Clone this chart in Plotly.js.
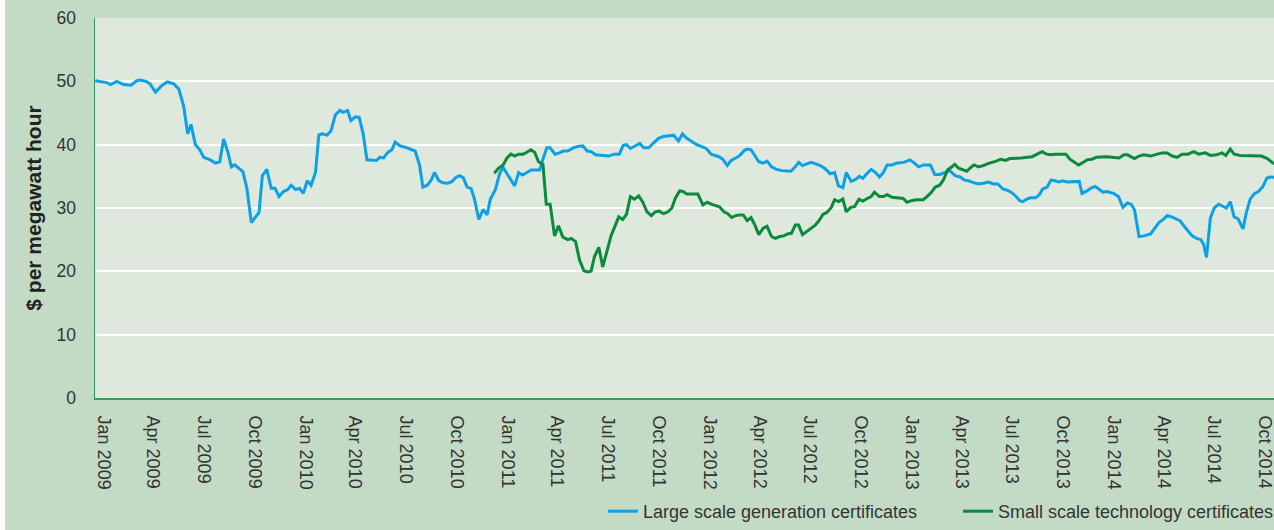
<!DOCTYPE html>
<html>
<head>
<meta charset="utf-8">
<script src="https://cdn.plot.ly/plotly-3.0.1.min.js"></script>
<style>
  html, body { margin: 0; padding: 0; background: #ffffff; width: 1274px; height: 530px; overflow: hidden; }
  #chart { position: absolute; left: 5px; top: 0; width: 1400px; height: 530px; }
</style>
</head>
<body>
<div id="chart"></div>
<script>
// Large scale generation certificates ($/MWh)
const lgcDates = [
"2008-12-17","2009-01-07","2009-01-14","2009-01-25","2009-02-06","2009-02-20","2009-03-02","2009-03-08","2009-03-19","2009-03-26",
"2009-04-05","2009-04-17","2009-04-26","2009-05-08","2009-05-17","2009-05-26","2009-06-02","2009-06-08","2009-06-16","2009-06-24",
"2009-07-01","2009-07-13","2009-07-22","2009-07-30","2009-08-06","2009-08-14","2009-08-20","2009-08-26","2009-09-02","2009-09-10",
"2009-09-17","2009-09-25","2009-10-02","2009-10-09","2009-10-15","2009-10-23","2009-10-31","2009-11-07","2009-11-14","2009-11-22",
"2009-11-30","2009-12-06","2009-12-14","2009-12-21","2009-12-28","2010-01-04","2010-01-11","2010-01-19","2010-01-25","2010-01-31",
"2010-02-09","2010-02-16","2010-02-24","2010-03-04","2010-03-10","2010-03-18","2010-03-24","2010-04-01","2010-04-08","2010-04-15",
"2010-04-22","2010-05-01","2010-05-09","2010-05-15","2010-05-22","2010-05-29","2010-06-06","2010-06-12","2010-06-21","2010-06-30",
"2010-07-09","2010-07-18","2010-07-26","2010-08-01","2010-08-09","2010-08-16","2010-08-22","2010-08-30","2010-09-06","2010-09-15",
"2010-09-23","2010-09-29","2010-10-06","2010-10-13","2010-10-20","2010-10-27","2010-11-02","2010-11-10","2010-11-18","2010-11-25",
"2010-12-01","2010-12-10","2010-12-18","2010-12-24","2011-01-03","2011-01-14","2011-01-21","2011-01-28","2011-02-05","2011-02-13",
"2011-02-20","2011-02-28","2011-03-06","2011-03-13","2011-03-19","2011-03-28","2011-04-05","2011-04-12","2011-04-20","2011-04-28",
"2011-05-07","2011-05-17","2011-05-25","2011-06-01","2011-06-09","2011-06-21","2011-07-03","2011-07-13","2011-07-22","2011-07-29",
"2011-08-04","2011-08-11","2011-08-20","2011-08-28","2011-09-04","2011-09-13","2011-09-22","2011-10-01","2011-10-10","2011-10-19",
"2011-10-28","2011-11-06","2011-11-13","2011-11-21","2011-11-30","2011-12-09","2011-12-26","2012-01-04","2012-01-18","2012-01-25",
"2012-02-02","2012-02-09","2012-02-20","2012-02-26","2012-03-04","2012-03-10","2012-03-16","2012-03-22","2012-03-30","2012-04-07",
"2012-04-14","2012-04-22","2012-05-01","2012-05-11","2012-05-20","2012-05-27","2012-06-04","2012-06-10","2012-06-17","2012-06-25",
"2012-07-02","2012-07-10","2012-07-19","2012-07-28","2012-08-06","2012-08-14","2012-08-21","2012-08-29","2012-09-04","2012-09-13",
"2012-09-21","2012-09-28","2012-10-04","2012-10-12","2012-10-19","2012-10-27","2012-11-03","2012-11-10","2012-11-17","2012-11-26",
"2012-12-05","2012-12-17","2012-12-28","2013-01-05","2013-01-13","2013-01-22","2013-02-03","2013-02-11","2013-02-20","2013-03-01",
"2013-03-10","2013-03-20","2013-03-29","2013-04-06","2013-04-13","2013-04-22","2013-05-01","2013-05-10","2013-05-19","2013-05-28",
"2013-06-05","2013-06-14","2013-06-22","2013-06-29","2013-07-07","2013-07-14","2013-07-20","2013-07-27","2013-08-03","2013-08-12",
"2013-08-19","2013-08-25","2013-09-02","2013-09-09","2013-09-17","2013-09-23","2013-09-30","2013-10-08","2013-10-17","2013-10-24",
"2013-10-30","2013-11-04","2013-11-13","2013-11-21","2013-11-28","2013-12-12","2013-12-19","2013-12-31","2014-01-09","2014-01-17",
"2014-01-25","2014-02-01","2014-02-07","2014-02-15","2014-02-24","2014-03-08","2014-03-15","2014-03-23","2014-03-31","2014-04-07",
"2014-04-15","2014-04-24","2014-04-30","2014-05-07","2014-05-14","2014-05-22","2014-05-30","2014-06-07","2014-06-12","2014-06-17",
"2014-06-24","2014-07-01","2014-07-09","2014-07-16","2014-07-23","2014-07-30","2014-08-06","2014-08-13","2014-08-22","2014-08-28",
"2014-09-04","2014-09-12","2014-09-19","2014-09-27","2014-10-04","2014-10-10","2014-10-17","2014-10-24"
];
const lgcValues = [
50.1,49.8,49.5,50.0,49.5,49.4,50.1,50.2,50.0,49.6,
48.3,49.4,49.9,49.6,48.8,46.0,41.7,43.2,40.0,39.2,
38.0,37.6,37.1,37.3,40.9,38.7,36.5,36.8,36.3,35.7,
33.1,27.7,28.5,29.3,35.1,36.1,33.1,33.1,31.8,32.6,
32.9,33.6,32.9,33.1,32.3,34.3,33.6,35.6,41.5,41.7,
41.5,42.2,44.7,45.4,45.1,45.4,43.8,44.4,44.3,41.8,
37.6,37.5,37.5,38.0,37.9,38.7,39.2,40.4,39.8,39.6,
39.3,39.0,36.8,33.3,33.6,34.4,35.6,34.3,34.0,33.9,
34.2,34.8,35.1,34.8,33.3,33.1,31.5,28.2,29.8,28.9,
31.4,32.9,35.5,36.4,35.0,33.5,35.6,35.2,35.6,36.0,
36.0,36.0,37.7,39.5,39.5,38.5,38.7,39.0,39.0,39.4,
39.7,39.8,39.0,38.9,38.4,38.3,38.2,38.5,38.5,39.9,
40.0,39.4,39.8,40.2,39.5,39.5,40.3,41.0,41.3,41.4,
41.5,40.6,41.7,41.0,40.5,40.0,39.4,38.5,38.1,37.7,
36.7,37.5,38.0,38.4,39.1,39.3,39.2,38.4,37.3,37.1,
37.4,36.5,36.1,35.9,35.8,35.8,36.5,37.2,36.7,37.0,
37.2,37.0,36.7,36.2,35.4,35.6,33.5,33.2,35.6,34.2,
34.5,35.0,34.7,35.5,36.1,35.6,34.9,35.6,36.8,36.8,
37.1,37.2,37.6,37.1,36.5,36.8,36.8,35.3,35.3,35.6,
35.9,35.1,34.9,34.4,34.3,34.0,33.8,33.9,34.1,33.8,
33.8,33.0,32.8,32.5,31.9,31.2,31.0,31.4,31.6,31.6,
32.1,33.0,33.3,34.4,34.3,34.1,34.3,34.1,34.1,34.1,
34.2,32.3,32.7,33.2,33.4,32.5,32.6,32.3,31.8,30.1,
30.8,30.6,29.7,25.5,25.6,25.9,26.8,27.7,28.2,28.8,
28.6,28.3,28.0,27.2,26.5,25.6,25.2,25.0,24.2,22.2,
28.4,30.0,30.6,30.3,30.0,31.0,28.6,28.3,26.7,29.3,
31.4,32.3,32.6,33.4,34.7,34.9,34.8,34.8
];

// Small scale technology certificates ($/MWh)
const stcDates = [
"2010-12-08","2010-12-16","2010-12-24","2010-12-31","2011-01-07","2011-01-14","2011-01-21","2011-01-29","2011-02-05","2011-02-12",
"2011-02-19","2011-02-26","2011-03-06","2011-03-12","2011-03-19","2011-03-27","2011-04-03","2011-04-11","2011-04-20","2011-04-26",
"2011-05-04","2011-05-11","2011-05-19","2011-05-26","2011-06-01","2011-06-07","2011-06-15","2011-06-22","2011-06-30","2011-07-07",
"2011-07-14","2011-07-21","2011-07-28","2011-08-04","2011-08-11","2011-08-18","2011-08-26","2011-09-02","2011-09-10","2011-09-18",
"2011-09-25","2011-10-02","2011-10-10","2011-10-18","2011-10-25","2011-10-31","2011-11-08","2011-11-14","2011-11-21","2011-11-30",
"2011-12-11","2011-12-20","2011-12-28","2012-01-04","2012-01-12","2012-01-19","2012-01-27","2012-02-03","2012-02-10","2012-02-17",
"2012-02-24","2012-03-02","2012-03-09","2012-03-16","2012-03-23","2012-03-30","2012-04-07","2012-04-14","2012-04-22","2012-04-29",
"2012-05-07","2012-05-14","2012-05-21","2012-05-28","2012-06-04","2012-06-10","2012-06-17","2012-06-25","2012-07-02","2012-07-10",
"2012-07-16","2012-07-24","2012-07-31","2012-08-08","2012-08-14","2012-08-21","2012-08-29","2012-09-04","2012-09-12","2012-09-19",
"2012-09-27","2012-10-04","2012-10-12","2012-10-19","2012-10-25","2012-11-03","2012-11-10","2012-11-17","2012-11-26","2012-12-05",
"2012-12-16","2012-12-23","2013-01-01","2013-01-10","2013-01-21","2013-01-28","2013-02-04","2013-02-12","2013-02-20","2013-02-27",
"2013-03-06","2013-03-14","2013-03-19","2013-03-26","2013-04-03","2013-04-10","2013-04-17","2013-04-23","2013-05-01","2013-05-10",
"2013-05-18","2013-05-26","2013-06-02","2013-06-10","2013-06-19","2013-06-27","2013-07-07","2013-07-17","2013-07-28","2013-08-06",
"2013-08-15","2013-08-24","2013-09-01","2013-09-08","2013-09-17","2013-09-26","2013-10-06","2013-10-13","2013-10-21","2013-10-29",
"2013-11-06","2013-11-13","2013-11-22","2013-11-30","2013-12-20","2014-01-10","2014-01-19","2014-01-25","2014-02-07","2014-02-15",
"2014-02-24","2014-03-08","2014-03-20","2014-03-29","2014-04-07","2014-04-16","2014-04-25","2014-05-04","2014-05-14","2014-05-25",
"2014-06-03","2014-06-15","2014-06-24","2014-07-05","2014-07-15","2014-07-22","2014-07-30","2014-08-06","2014-08-17","2014-08-29",
"2014-09-10","2014-09-24","2014-10-05","2014-10-15","2014-10-24"
];
const stcValues = [
35.5,36.3,36.8,37.9,38.5,38.2,38.5,38.5,38.8,39.2,
38.8,37.3,36.9,30.6,30.6,25.6,27.2,25.4,25.0,25.2,
24.7,21.8,20.1,19.9,20.0,22.3,23.8,20.7,23.3,25.6,
27.1,28.6,28.2,29.0,31.8,31.4,31.9,31.0,29.4,28.8,
29.4,29.5,29.1,29.4,30.0,31.5,32.7,32.6,32.2,32.2,
32.2,30.5,30.9,30.6,30.4,30.2,29.4,29.1,28.5,28.8,
28.9,28.9,28.0,28.5,27.3,25.8,26.8,27.1,25.5,25.2,
25.5,25.6,25.9,26.0,27.3,27.3,25.8,26.3,26.8,27.3,
27.9,29.0,29.3,30.1,31.3,31.0,31.4,29.4,30.1,30.2,
31.4,31.1,31.5,31.8,32.5,31.8,31.8,32.1,31.7,31.6,
31.5,30.9,31.2,31.3,31.3,31.8,32.4,33.3,33.6,34.5,
36.0,36.5,36.9,36.3,36.0,35.8,36.4,36.8,36.5,36.7,
37.0,37.2,37.4,37.7,37.5,37.8,37.8,37.9,38.0,38.1,
38.5,38.9,38.5,38.4,38.5,38.5,38.5,37.7,37.3,36.8,
37.2,37.6,37.7,38.0,38.1,37.9,38.4,38.4,37.8,38.2,
38.4,38.2,38.5,38.7,38.7,38.2,38.0,38.5,38.5,38.9,
38.5,38.7,38.3,38.4,38.7,38.3,39.3,38.5,38.3,38.3,
38.3,38.2,37.8,37.1,36.8
];

// Axis tick labels (quarterly)
const tickYears = [2009, 2010, 2011, 2012, 2013, 2014];
const tickMonths = ["Jan", "Apr", "Jul", "Oct"];
const tickMonthNums = ["01", "04", "07", "10"];
const yTicks = [0, 10, 20, 30, 40, 50, 60];

const seriesNames = ["Large scale generation certificates", "Small scale technology certificates"];

const tickVals = [], tickText = [];
tickYears.forEach(y => {
  tickMonths.forEach((m, i) => {
    tickVals.push(y + "-" + tickMonthNums[i] + "-01");
    tickText.push(m + " " + y);
  });
});

const FONT = '"Liberation Sans", Arial, Helvetica, sans-serif';

const traces = [
  { x: lgcDates, y: lgcValues, type: 'scatter', mode: 'lines', name: seriesNames[0],
    line: { color: '#0ca0e6', width: 3 } },
  { x: stcDates, y: stcValues, type: 'scatter', mode: 'lines', name: seriesNames[1],
    line: { color: '#0b8a3c', width: 3 } }
];

// The original figure is cropped at its right side: the paper runs past the window.
const layout = {
  width: 1400, height: 530,
  margin: { l: 90, r: 100, t: 18, b: 132, autoexpand: false },
  paper_bgcolor: '#c3dbc4',
  plot_bgcolor: '#dee8dc',
  font: { family: FONT, size: 17, color: '#333333' },
  showlegend: true,
  legend: {
    orientation: 'h', xref: 'container', yref: 'container',
    x: 0.4271, xanchor: 'left', y: -0.012, yanchor: 'bottom',
    font: { family: FONT, size: 18, color: '#333333' },
    bgcolor: 'rgba(0,0,0,0)', entrywidth: 310, traceorder: 'normal'
  },
  xaxis: {
    type: 'date',
    range: ['2008-12-16 14:00', '2014-12-12'],
    tickvals: tickVals, ticktext: tickText,
    tickangle: 90,
    ticks: '', showgrid: false, zeroline: false,
    showline: true, linecolor: '#3a9a5e', linewidth: 2,
    ticklabelstandoff: 12,
    tickfont: { family: FONT, size: 18, color: '#333333' },
    fixedrange: true
  },
  yaxis: {
    range: [0, 60], tickvals: yTicks,
    showgrid: true, gridcolor: '#ffffff', gridwidth: 2,
    zeroline: false, ticks: '',
    showline: true, linecolor: '#2f9a55', linewidth: 1.5,
    ticklabelstandoff: 14,
    tickfont: { family: FONT, size: 17.5, color: '#333333' },
    title: { text: '$ per megawatt hour', standoff: 9,
      font: { family: FONT, size: 21, color: '#222222', weight: 700 } },
    fixedrange: true
  }
};

Plotly.newPlot('chart', traces, layout, { displayModeBar: false, staticPlot: true });
</script>
</body>
</html>
